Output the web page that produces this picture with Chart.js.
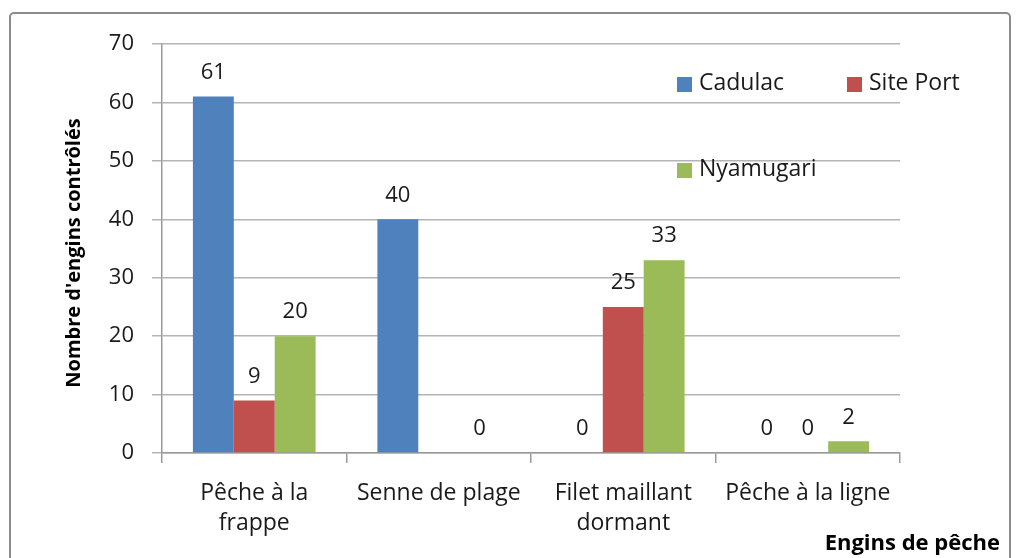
<!DOCTYPE html>
<html lang="fr">
<head>
  <meta charset="UTF-8">
  <title>Engins de pêche contrôlés</title>
  <script src="https://cdn.jsdelivr.net/npm/chart.js"></script>
  <style>
    body {
      margin: 0;
      background: #ffffff;
    }

    .chart-box {
      width: 1021px;
      height: 558px;
    }
  </style>
</head>
<body>

<div class="chart-box">
  <canvas id="enginsChart" width="1021" height="558"></canvas>
</div>

<script>
// données
const categories = [['Pêche à la', 'frappe'], 'Senne de plage', ['Filet maillant', 'dormant'], 'Pêche à la ligne'];
const cadulac = [61, 40, 0, 0];
const sitePort = [9, null, 25, 0];
const nyamugari = [20, 0, 33, 2];
const yTicks = [0, 10, 20, 30, 40, 50, 60, 70];

const FONT = '"Open Sans", Lato, sans-serif';

// cadre gris autour du graphique
const framePlugin = {
  id: 'frame',
  beforeDraw(chart) {
    const c = chart.ctx;
    c.save();
    c.strokeStyle = '#8c8c8c';
    c.lineWidth = 2;
    c.beginPath();
    c.roundRect(10, 13, 1000, 560, 4);
    c.stroke();
    c.restore();
  }
};

// valeurs au-dessus des barres
const valueLabels = {
  id: 'valueLabels',
  afterDatasetsDraw(chart) {
    const c = chart.ctx;
    c.save();
    c.font = '22px ' + FONT;
    c.fillStyle = '#1a1a1a';
    c.textAlign = 'center';
    c.textBaseline = 'middle';
    chart.data.datasets.forEach((ds, i) => {
      chart.getDatasetMeta(i).data.forEach((bar, j) => {
        if (ds.data[j] === null) return;
        c.fillText(ds.data[j], bar.x, bar.y - 24);
      });
    });
    c.restore();
  }
};

// légende et titres des axes
const extras = {
  id: 'extras',
  afterDraw(chart) {
    const c = chart.ctx;
    const ds = chart.data.datasets;
    const spots = [[677, 77], [847, 77], [677, 163]];
    c.save();
    c.font = '23px ' + FONT;
    c.textBaseline = 'middle';
    c.textAlign = 'left';
    ds.forEach((d, i) => {
      const [x, y] = spots[i];
      c.fillStyle = d.backgroundColor;
      c.fillRect(x, y, 15, 15);
      c.fillStyle = '#1a1a1a';
      c.fillText(d.label, x + 22, y + 6);
    });

    c.font = 'bold 22px ' + FONT;
    c.fillStyle = '#000';
    c.textAlign = 'right';
    c.fillText('Engins de pêche', 1000, 544);

    c.translate(74, 253);
    c.rotate(-Math.PI / 2);
    c.textAlign = 'center';
    c.font = 'bold 20px ' + FONT;
    c.fillText("Nombre d'engins contrôlés", 0, 0);
    c.restore();
  }
};

const ctx = document.getElementById('enginsChart').getContext('2d');

new Chart(ctx, {
  type: 'bar',
  data: {
    labels: categories,
    datasets: [
      { label: 'Cadulac', data: cadulac, backgroundColor: '#4F81BD' },
      { label: 'Site Port', data: sitePort, backgroundColor: '#C0504D' },
      { label: 'Nyamugari', data: nyamugari, backgroundColor: '#9BBB59' }
    ]
  },
  options: {
    responsive: false,
    animation: false,
    categoryPercentage: 0.665,
    barPercentage: 1,
    layout: {
      padding: { left: 0, top: 44, right: 121, bottom: 0 }
    },
    plugins: {
      legend: { display: false },
      tooltip: { enabled: false }
    },
    scales: {
      x: {
        afterFit(scale) { scale.height = 105; },
        grid: {
          drawOnChartArea: false,
          drawTicks: true,
          tickLength: 10,
          color: '#9a9a9a',
          lineWidth: 1.5
        },
        border: { color: '#9a9a9a', width: 1.5 },
        ticks: {
          color: '#1a1a1a',
          font: { family: FONT, size: 23, lineHeight: 1.3 },
          padding: 16,
          maxRotation: 0
        }
      },
      y: {
        min: 0,
        max: 70,
        afterFit(scale) { scale.width = 162; },
        afterBuildTicks(scale) { scale.ticks = yTicks.map(v => ({ value: v })); },
        grid: {
          color: '#b4b4b4',
          lineWidth: 1.5,
          tickLength: 10
        },
        border: { color: '#9a9a9a', width: 1.5 },
        ticks: {
          color: '#1a1a1a',
          font: { family: FONT, size: 22 },
          padding: 18
        }
      }
    }
  },
  plugins: [framePlugin, valueLabels, extras]
});
</script>

</body>
</html>
